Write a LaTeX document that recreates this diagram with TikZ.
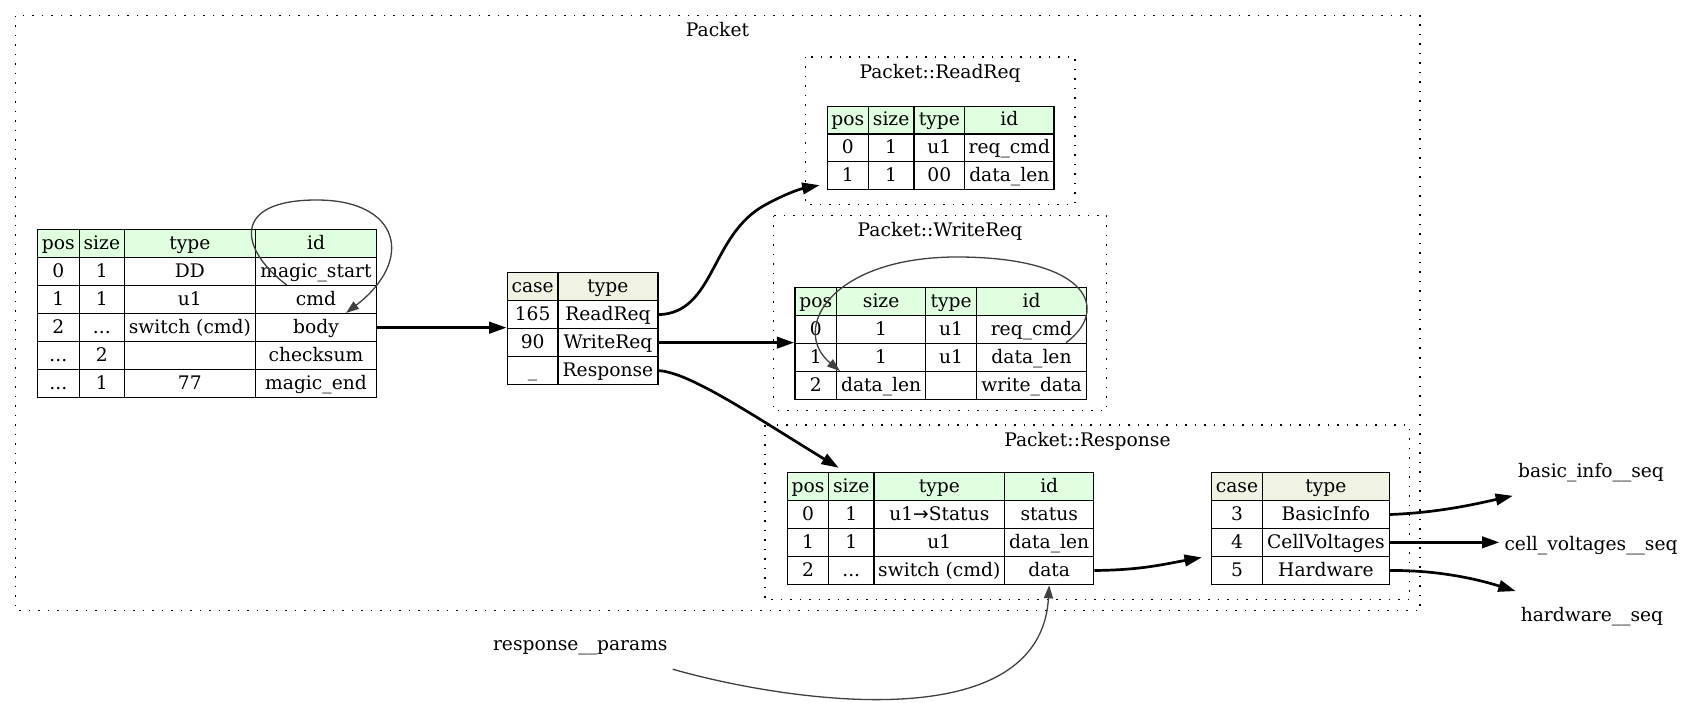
\documentclass[tikz,border=0pt]{standalone}
\usepackage{fontspec}
\setmainfont{DejaVu Serif}
\newfontfamily\arrowfont{DejaVu Sans}
\usetikzlibrary{arrows.meta,calc,fit}
\definecolor{seqhead}{HTML}{E0FFE0}
\definecolor{casehead}{HTML}{F0F2E4}
\definecolor{refgray}{HTML}{404040}
\newcommand\diagfont{\fontsize{18.67pt}{22pt}\selectfont}
\newcommand\threedots{...}
\newcommand\tablerow[6]{%
  \foreach \xa/\xb/\txt [count=\ci] in {#6}{%
    \pgfmathsetmacro\cellw{\xb-\xa}%
    \pgfmathsetmacro\cellh{#4-#3}%
    \node[cellbox, fill=#5, minimum width=\cellw pt, minimum height=\cellh pt] (#1#2-\ci) at (\xa,#3) {\txt};
  }}
\begin{document}
\begin{tikzpicture}[x=1pt,y=-1pt,
  cellbox/.style={draw=black, line width=1.3pt, inner sep=0pt, anchor=north west, font=\diagfont, text height=14pt, text depth=2.6pt},
  plainnode/.style={inner xsep=5pt, inner ysep=0pt, minimum height=48pt, font=\diagfont, text height=14pt, text depth=2.6pt},
  titletext/.style={inner sep=0pt, anchor=base, font=\diagfont},
  cluster/.style={draw=black, line width=1.3pt, dash pattern=on 1.5pt off 8pt},
  thickedge/.style={draw=black, line width=2.7pt, -{Triangle[length=17.3pt,width=11.5pt]}},
  refedge/.style={draw=refgray, line width=1.3pt, -{Triangle[length=13pt,width=9pt]}}]
\useasboundingbox (0,0) rectangle (1695,703);
\fill[white] (0,0) rectangle (1695,703);

% clusters
\draw[cluster] (15.7,15.7) rectangle (1420,610.7);
\node[titletext] (tpacket) at (717.5,36.7) {Packet};
\draw[cluster] (805.5,57) rectangle (1075,204.3);
\node[titletext] (treadreq) at (940,78.3) {Packet::ReadReq};
\draw[cluster] (773.3,215.7) rectangle (1106.7,410.7);
\node[titletext] (twritereq) at (940,236.7) {Packet::WriteReq};
\draw[cluster] (765,425) rectangle (1409.3,599.5);
\node[titletext] (tresponse) at (1087.4,446) {Packet::Response};

% main seq table
\tablerow{m}{0}{229}{257}{seqhead}{36.7/78.7/pos, 78.7/123.7/size, 123.7/254.7/type, 254.7/376/id}
\tablerow{m}{1}{257}{285}{white}{36.7/78.7/0, 78.7/123.7/1, 123.7/254.7/DD, 254.7/376/magic\_start}
\tablerow{m}{2}{285}{313}{white}{36.7/78.7/1, 78.7/123.7/1, 123.7/254.7/u1, 254.7/376/cmd}
\tablerow{m}{3}{313}{341}{white}{36.7/78.7/2, 78.7/123.7/\threedots, 123.7/254.7/switch (cmd), 254.7/376/body}
\tablerow{m}{4}{341}{369}{white}{36.7/78.7/\threedots, 78.7/123.7/2, 123.7/254.7/{}, 254.7/376/checksum}
\tablerow{m}{5}{369}{397}{white}{36.7/78.7/\threedots, 78.7/123.7/1, 123.7/254.7/77, 254.7/376/magic\_end}
\node[fit=(m0-1)(m5-4), inner sep=0pt] (mtab) {};

% case table A
\tablerow{a}{0}{271.7}{300}{casehead}{506.7/557.3/case, 557.3/657.3/type}
\tablerow{a}{1}{300}{328}{white}{506.7/557.3/165, 557.3/657.3/ReadReq}
\tablerow{a}{2}{328}{356}{white}{506.7/557.3/90, 557.3/657.3/WriteReq}
\tablerow{a}{3}{356}{384}{white}{506.7/557.3/\_, 557.3/657.3/Response}
\node[fit=(a0-1)(a3-2), inner sep=0pt] (atab) {};

% ReadReq
\tablerow{q}{0}{105.7}{133.3}{seqhead}{826.7/867.7/pos, 867.7/913.3/size, 913.3/964/type, 964/1053.3/id}
\tablerow{q}{1}{133.3}{161}{white}{826.7/867.7/0, 867.7/913.3/1, 913.3/964/u1, 964/1053.3/req\_cmd}
\tablerow{q}{2}{161}{188.7}{white}{826.7/867.7/1, 867.7/913.3/1, 913.3/964/00, 964/1053.3/data\_len}
\node[fit=(q0-1)(q2-4), inner sep=0pt] (qtab) {};

% WriteReq
\tablerow{w}{0}{286.7}{315}{seqhead}{794.3/836/pos, 836/925/size, 925/976/type, 976/1085.7/id}
\tablerow{w}{1}{315}{342.7}{white}{794.3/836/0, 836/925/1, 925/976/u1, 976/1085.7/req\_cmd}
\tablerow{w}{2}{342.7}{371}{white}{794.3/836/1, 836/925/1, 925/976/u1, 976/1085.7/data\_len}
\tablerow{w}{3}{371}{398.7}{white}{794.3/836/2, 836/925/data\_len, 925/976/{}, 976/1085.7/write\_data}
\node[fit=(w0-1)(w3-4), inner sep=0pt] (wtab) {};

% Response seq
\tablerow{s}{0}{471.7}{500}{seqhead}{786.9/828/pos, 828/873.2/size, 873.2/1004.1/type, 1004.1/1093/id}
\tablerow{s}{1}{500}{527.7}{white}{786.9/828/0, 828/873.2/1, 873.2/1004.1/u1{\arrowfont →}Status, 1004.1/1093/status}
\tablerow{s}{2}{527.7}{555.7}{white}{786.9/828/1, 828/873.2/1, 873.2/1004.1/u1, 1004.1/1093/data\_len}
\tablerow{s}{3}{555.7}{584}{white}{786.9/828/2, 828/873.2/\threedots, 873.2/1004.1/switch (cmd), 1004.1/1093/data}
\node[fit=(s0-1)(s3-4), inner sep=0pt] (stab) {};

% case table B
\tablerow{b}{0}{471.7}{500}{casehead}{1211/1261.7/case, 1261.7/1388.8/type}
\tablerow{b}{1}{500}{527.7}{white}{1211/1261.7/3, 1261.7/1388.8/BasicInfo}
\tablerow{b}{2}{527.7}{555.7}{white}{1211/1261.7/4, 1261.7/1388.8/CellVoltages}
\tablerow{b}{3}{555.7}{584}{white}{1211/1261.7/5, 1261.7/1388.8/Hardware}
\node[fit=(b0-1)(b3-2), inner sep=0pt] (btab) {};

% plain nodes
\node[plainnode] (rp) at (580.3,645) {response\_\_params};
\node[plainnode] (bi) at (1591,471.6) {basic\_info\_\_seq};
\node[plainnode] (cv) at (1591,544.3) {cell\_voltages\_\_seq};
\node[plainnode] (hw) at (1592,615.3) {hardware\_\_seq};

% edges
\draw[thickedge] (m3-4.east) -- (m3-4.east -| atab.west);
\draw[thickedge] (a1-2.east) .. controls (715,313) and (710,235) .. (765,205) .. controls (785,194) and (800,189) .. ($(qtab.south west)+(-7,-5)$);
\draw[thickedge] (a2-2.east) -- (a2-2.east -| wtab.west);
\draw[thickedge] (a3-2.east) .. controls (690,372) and (760,420) .. ($(stab.north west)+(52,-3.7)$);
\draw[thickedge] (s3-4.east) .. controls (1140,570) and (1160,565) .. ($(btab.west)+(-9,28.9)$);
\draw[thickedge] (b1-2.east) .. controls (1440,512.7) and (1480,503) .. (bi.south west);
\draw[thickedge] (b2-2.east) -- (b2-2.east -| cv.west);
\draw[thickedge] (b3-2.east) .. controls (1440,570) and (1480,580) .. (hw.north west);

\draw[refedge] ($(m2-4.north west)+(32,0)$) .. controls (240,250) and (230,200) .. (316.7,200) .. controls (400,200) and (415,260) .. ($(m3-4.north)+(30,0)$);
\draw[refedge] ($(w2-4.north east)+(-21,0)$) .. controls (1110,310) and (1090,258) .. (960,257) .. controls (830,256) and (790,330) .. ($(w3-2.north west)+(4,0)$);
\draw[refedge] (rp.south east) .. controls (780,700) and (1040,742) .. (s3-4.south);
\end{tikzpicture}
\end{document}
